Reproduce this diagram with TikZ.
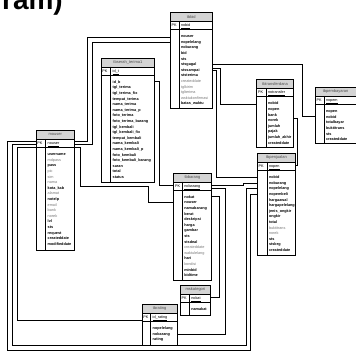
\documentclass[tikz,border=0pt]{standalone}
\usepackage{fontspec}
\setmainfont{Liberation Sans}
\usetikzlibrary{calc}
\definecolor{hdr}{HTML}{D4D4D4}
\definecolor{opt}{HTML}{7A7A7A}
\tikzset{
 tbox/.style={draw=black, line width=0.8pt, fill=white, inner sep=0pt, anchor=north west},
 hbox/.style={draw=black, line width=0.8pt, fill=hdr, inner sep=0pt, anchor=north west, font=\fontsize{4}{4}\selectfont, text=black!70},
 pkt/.style={anchor=base west, inner sep=0pt, font=\fontsize{3.8}{3.8}\selectfont},
 fld/.style={anchor=north west, inner sep=0pt, align=left, font=\fontsize{3.8}{5.6}\selectfont\bfseries},
 conn/.style={draw=black, line width=0.75pt},
}
\newcommand\op[1]{{\mdseries\color{opt}#1}}
% #1 name #2 x1 #3 x2 #4 ytop #5 ybot #6 xdiv #7 title #8 pk #9 fields
\newcommand\dbtable[9]{%
 \node[tbox, minimum width={(#3-#2)*1pt}, minimum height={(#5-#4)*1pt}] (#1) at (#2,#4) {};
 \node[hbox, minimum width={(#3-#2)*1pt}, minimum height=9pt] (#1-h) at (#2,#4) {#7};
 \draw[line width=1pt] (#2,#4+17.5) -- (#3,#4+17.5);
 \draw[line width=0.8pt] (#6,#4+9) -- (#6,#5);
 \node[pkt] (#1-pk) at (#2+1.5,#4+14.5) {PK};
 \node[pkt] (#1-pkn) at (#6+1.8,#4+14.5) {\underline{#8}};
 \node[fld] (#1-f) at (#6+1.8,#4+22.5) {\rule{0pt}{3pt}#9};
}
\begin{document}
\begin{tikzpicture}[x=1pt,y=-1pt]
\useasboundingbox[fill=white] (0,0) rectangle (356,352);
\node[anchor=base east, inner sep=0pt, font=\fontsize{28}{28}\selectfont\bfseries] (ttl) at (63,10) {ram)};

% connectors (drawn first, tables on top)
\draw[conn] (170,37.3) -| (87.3,141.7) -- (74,141.7);
\draw[conn] (170,42.7) -| (92.7,144.3) -- (74,144.3);
\draw[conn] (74,146.9) -| (80.7,186.7) -| (148.3,202.3) -- (173.3,202.3);
\draw[conn] (154.3,81.7) -| (159.3,185) -- (173.3,185);
\draw[conn] (211.7,64.3) -| (302,116) -- (315,116);
\draw[conn] (211.7,68.3) -| (220,104) -- (256.3,104);
\draw[conn] (211.7,70.5) -| (216,177.5) -- (257,177.5);
\draw[conn] (293,118) -| (297.5,165) -- (295,165);
\draw[conn] (210.7,185) -| (243.3,183) -- (257,183);
\draw[conn] (176.7,334) -| (225,188.3) -- (210.7,188.3);
\draw[conn] (210,297) -| (219.7,196.7) -- (210.7,196.7);
\draw[conn] (35.7,147.3) -| (17.3,320) -- (141.7,320);
\draw[conn] (35.7,144.3) -| (12.7,345.5) -| (246.3,188.7) -- (257,188.7);
\draw[conn] (35.7,141.7) -| (7.3,350) -| (250.7,194.3) -- (257,194.3);

% tables
\dbtable{tbbid}{170}{211.7}{12}{108}{179}{tbbid}{nobid}{nouser\\nopelelang\\nobarang\\bid\\sts\\stsgagal\\stssampai\\ststerima\\\op{createddate}\\\op{tglkirim}\\\op{tglterima}\\\op{waktukonfirmasi}\\batas\_waktu}
\dbtable{tbserah}{100.7}{154.3}{57.7}{182}{110.7}{tbserah\_terima1}{id\_t}{id\_b\\tgl\_terima\\tgl\_terima\_fix\\tempat\_terima\\nama\_terima\\nama\_terima\_p\\foto\_terima\\foto\_terima\_barang\\tgl\_kembali\\tgl\_kembali\_fix\\tempat\_kembali\\nama\_kembali\\nama\_kembali\_p\\foto\_kembali\\foto\_kembali\_barang\\saran\\total\\status}
\dbtable{mouser}{35.7}{74}{130}{250}{45.7}{mouser}{nouser}{username\\\op{mdpass}\\pass\\\op{pic}\\\op{sim}\\\op{nama}\\kota\_kab\\\op{alamat}\\notelp\\\op{email}\\\op{bank}\\\op{norek}\\lvl\\sts\\request\\createddate\\modifieddate}
\dbtable{tbbarang}{173.3}{210.7}{172.7}{280}{182.3}{tbbarang}{nobarang}{nokat\\nouser\\namabarang\\berat\\deskripsi\\harga\\gambar\\sts\\stsdeal\\\op{createddate}\\\op{waktulelang}\\hari\\\op{kondisi}\\minbid\\bidtime}
\dbtable{mskategori}{180}{210}{285}{315}{189.3}{mskategori}{nokat}{namakat}
\dbtable{tbrating}{141.7}{176.7}{304}{345}{150.7}{tbrating}{id\_rating}{nopelelang\\nobarang\\rating}
\dbtable{tbpenjualan}{257}{295}{153}{255}{267}{tbpenjualan}{nopen}{nobid\\nobarang\\nopelelang\\nopembeli\\hargaawal\\hargapelelang\\jenis\_ongkir\\ongkir\\total\\\op{buktitrans}\\\op{norek}\\sts\\stsbrg\\createddate}
\dbtable{tbtransferdana}{256.3}{293}{79.3}{147.3}{266}{tbtransferdana}{notransfer}{nobid\\nopen\\bank\\norek\\jumlah\\pajak\\jumlah\_akhir\\createddate}
\dbtable{tbpembayaran}{315}{355.5}{87}{143.5}{324}{tbpembayaran}{nopem}{nopen\\nobid\\totalbayar\\buktitrans\\sts\\createddate}
\end{tikzpicture}
\end{document}
